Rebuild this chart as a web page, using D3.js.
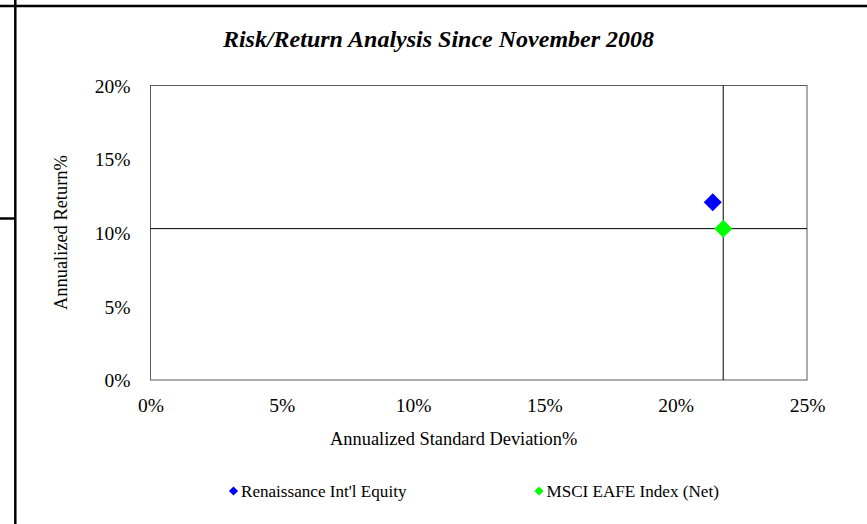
<!DOCTYPE html>
<html>
<head>
<meta charset="utf-8">
<script src="https://cdn.jsdelivr.net/npm/d3@7"></script>
<style>
  html, body { margin: 0; padding: 0; background: #fff; }
  svg { display: block; font-family: "Liberation Serif", "Times New Roman", serif; }
</style>
</head>
<body>
<svg id="chart" width="867" height="524"></svg>
<script>
// Risk / return points: annualized standard deviation (x) and annualized return (y), in %
const seriesNames = ["Renaissance Int'l Equity", "MSCI EAFE Index (Net)"];
const seriesColors = ["#0000ff", "#00ff00"];
const stdDev = [21.41, 21.81];
const annReturn = [12.07, 10.28];

const xTicks = [0, 5, 10, 15, 20, 25];
const yTicks = [0, 5, 10, 15, 20];

// The benchmark (MSCI EAFE) sets the reference crosshair
const benchmarkIndex = 1;

const svg = d3.select("#chart");
const W = 867, H = 524;
const plot = { left: 150.5, right: 807, top: 85.5, bottom: 380 };

const x = d3.scaleLinear().domain([0, 25]).range([plot.left, plot.right]);
const y = d3.scaleLinear().domain([0, 20]).range([plot.bottom, plot.top]);

// Page frame lines
svg.append("line").attr("x1", 0).attr("x2", W).attr("y1", 6).attr("y2", 6)
  .attr("stroke", "#000").attr("stroke-width", 2.5);
svg.append("line").attr("x1", 15.3).attr("x2", 15.3).attr("y1", 0).attr("y2", H)
  .attr("stroke", "#000").attr("stroke-width", 2.5);
svg.append("line").attr("x1", 0).attr("x2", 15.3).attr("y1", 218.5).attr("y2", 218.5)
  .attr("stroke", "#000").attr("stroke-width", 2.5);

// Title
svg.append("text")
  .attr("x", 438.5).attr("y", 47)
  .attr("text-anchor", "middle")
  .attr("font-size", 24).attr("font-weight", "bold").attr("font-style", "italic")
  .text("Risk/Return Analysis Since November 2008");

// Plot frame
svg.append("rect")
  .attr("x", plot.left).attr("y", plot.top)
  .attr("width", plot.right - plot.left).attr("height", plot.bottom - plot.top)
  .attr("fill", "none").attr("stroke", "#595959").attr("stroke-width", 1);

// Axes (labels only, no tick marks)
const fmt = d => d + "%";
const xAxis = d3.axisBottom(x).tickValues(xTicks).tickFormat(fmt).tickSize(0).tickPadding(0);
const yAxis = d3.axisLeft(y).tickValues(yTicks).tickFormat(fmt).tickSize(0).tickPadding(0);

const gx = svg.append("g").attr("transform", `translate(0,${plot.bottom})`).call(xAxis);
gx.select(".domain").remove();
gx.selectAll("text")
  .attr("font-family", "Liberation Serif, Times New Roman, serif")
  .attr("font-size", 19.5).attr("fill", "#000")
  .attr("dy", null).attr("y", 32);

const gy = svg.append("g").attr("transform", `translate(${plot.left - 20},0)`).call(yAxis);
gy.select(".domain").remove();
gy.selectAll("text")
  .attr("font-family", "Liberation Serif, Times New Roman, serif")
  .attr("font-size", 19.5).attr("fill", "#000")
  .attr("x", 0).attr("dy", "0.35em");

// Axis titles
svg.append("text")
  .attr("x", 453.7).attr("y", 445)
  .attr("text-anchor", "middle").attr("font-size", 18.4)
  .text("Annualized Standard Deviation%");
svg.append("text")
  .attr("transform", "translate(67,232.6) rotate(-90)")
  .attr("text-anchor", "middle").attr("font-size", 18.4)
  .text("Annualized Return%");

// Benchmark crosshair
svg.append("line")
  .attr("x1", x(stdDev[benchmarkIndex])).attr("x2", x(stdDev[benchmarkIndex]))
  .attr("y1", plot.top).attr("y2", plot.bottom)
  .attr("stroke", "#000").attr("stroke-width", 1);
svg.append("line")
  .attr("x1", plot.left).attr("x2", plot.right)
  .attr("y1", y(annReturn[benchmarkIndex])).attr("y2", y(annReturn[benchmarkIndex]))
  .attr("stroke", "#000").attr("stroke-width", 1);

// Points
const diamond = r => `M0,${-r}L${r},0L0,${r}L${-r},0Z`;
svg.append("g").selectAll("path")
  .data(seriesNames.map((n, i) => ({ n, sx: stdDev[i], ry: annReturn[i], c: seriesColors[i] })))
  .join("path")
  .attr("d", diamond(9))
  .attr("transform", d => `translate(${x(d.sx)},${y(d.ry)})`)
  .attr("fill", d => d.c);

// Legend
const legendX = [233.5, 539];
const lg = svg.append("g").selectAll("g")
  .data(seriesNames.map((n, i) => ({ n, c: seriesColors[i], lx: legendX[i] })))
  .join("g")
  .attr("transform", d => `translate(${d.lx},491)`);
lg.append("path").attr("d", diamond(4.6)).attr("fill", d => d.c);
lg.append("text").attr("x", 7.5).attr("dy", "0.35em")
  .attr("font-size", 17.1).text(d => d.n);
</script>
</body>
</html>
